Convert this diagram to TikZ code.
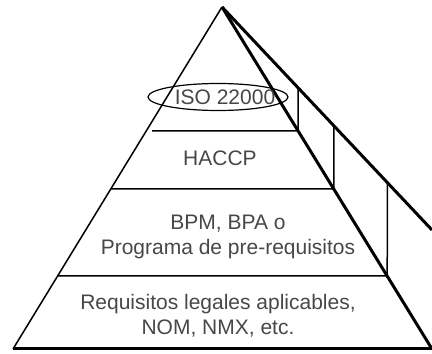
\documentclass[tikz,border=0pt]{standalone}
\usepackage{fontspec}
\setmainfont{Liberation Sans}
\tikzset{
  thinline/.style={line width=1.5pt},
  thickline/.style={line width=3pt},
  layertext/.style={font=\fontsize{21}{25}\selectfont, align=center, text=black!72},
}
\begin{document}
\begin{tikzpicture}[x=1pt,y=1pt]
\useasboundingbox (0,0) rectangle (432,354);
\coordinate (apex) at (222,347);
\coordinate (bl) at (13,5);
\coordinate (fr) at (432,5);
\coordinate (back) at (432,124);
% layer lines
\coordinate (l1) at (152,223);
\coordinate (f1) at (intersection of apex--fr and 0,223--432,223);
\coordinate (l2) at (intersection of apex--bl and 0,165--432,165);
\coordinate (f2) at (intersection of apex--fr and 0,165--432,165);
\coordinate (l3) at (intersection of apex--bl and 0,78--432,78);
\coordinate (f3) at (intersection of apex--fr and 0,78--432,78);
\draw[thinline] (l1) -- (f1);
\draw[thinline] (l2) -- (f2);
\draw[thinline] (l3) -- (f3);
% side face
\draw[thinline] (f1) -- (intersection of apex--back and f1--298,354);
\draw[thinline] (f2) -- (intersection of apex--back and f2--334,354);
\draw[thinline] (f3) -- (intersection of apex--back and f3--388,354);
% outline
\draw[thinline] (apex) -- (bl);
\draw[thickline] (bl) -- (fr);
\draw[thickline] (apex) -- (fr);
\draw[thickline] (apex) -- (back);
% labels
\coordinate (ring) at (218,257);
\node[layertext] (iso) at (225,257) {ISO 22000};
\draw[line width=1.2pt] (ring) ellipse (70 and 13.5);
\node[layertext] (haccp) at (220,196) {HACCP};
\node[layertext] (bpm) at (228,117.5) {BPM, BPA o\\Programa de pre-requisitos};
\node[layertext] (req) at (218,38) {Requisitos legales aplicables,\\NOM, NMX, etc.};
\end{tikzpicture}
\end{document}
